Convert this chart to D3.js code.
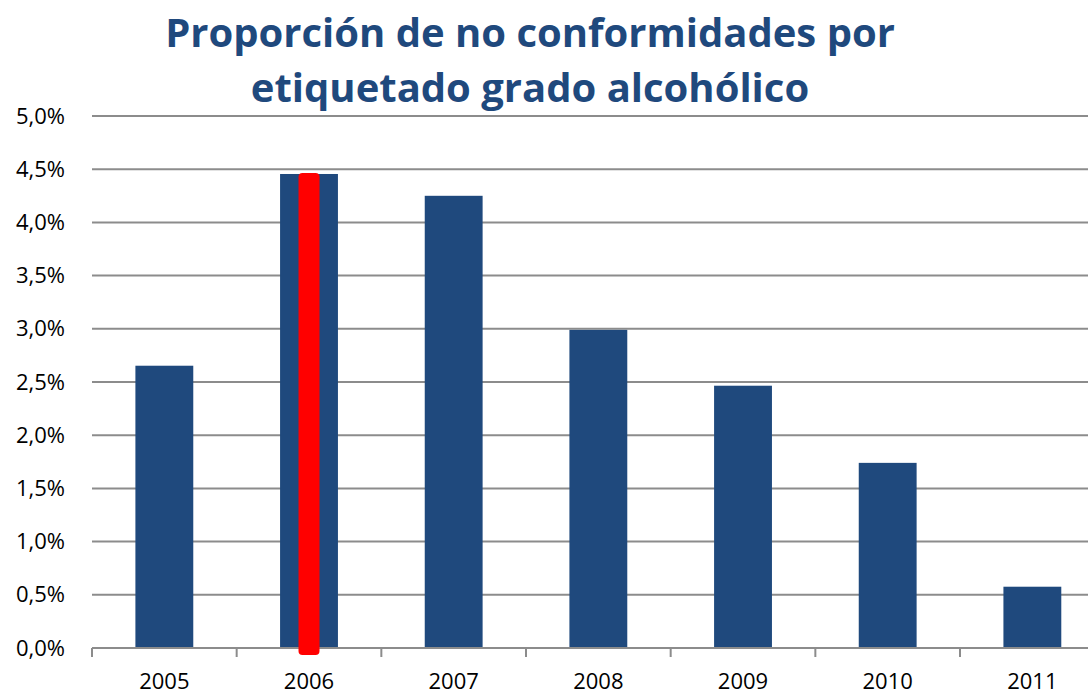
<!DOCTYPE html>
<html>
<head>
<meta charset="utf-8">
<script src="https://cdn.jsdelivr.net/npm/d3@7"></script>
<style>
  html, body { margin: 0; padding: 0; background: #fff; }
  svg { display: block; }
</style>
</head>
<body>
<svg id="chart" width="1088" height="695"></svg>
<script>
const categories = ["2005", "2006", "2007", "2008", "2009", "2010", "2011"];
const values = [0.02653, 0.04455, 0.0425, 0.0299, 0.02465, 0.0174, 0.00576];
const yTicks = [0, 0.005, 0.01, 0.015, 0.02, 0.025, 0.03, 0.035, 0.04, 0.045, 0.05];
const highlightCategory = "2006";
const titleLines = ["Proporción de no conformidades por", "etiquetado grado alcohólico"];

const svg = d3.select("#chart");
const plotLeft = 92, plotTop = 116, plotBottom = 648;
const step = 144.67;
const plotRight = plotLeft + step * categories.length;

const x = d3.scaleBand().domain(categories).range([plotLeft, plotRight]).paddingInner(0.6).paddingOuter(0.3);
const y = d3.scaleLinear().domain([0, 0.05]).range([plotBottom, plotTop]);
const fmt = v => d3.format(".1f")(v * 100).replace(".", ",") + "%";

// gridlines
svg.append("g").selectAll("line").data(yTicks.filter(d => d > 0)).join("line")
  .attr("x1", plotLeft).attr("x2", 1088)
  .attr("y1", d => y(d)).attr("y2", d => y(d))
  .attr("stroke", "#8c8c8c").attr("stroke-width", 2);

// bars
svg.append("g").selectAll("rect").data(categories).join("rect")
  .attr("x", (d) => x(d))
  .attr("width", x.bandwidth())
  .attr("y", (d, i) => y(values[i]))
  .attr("height", (d, i) => plotBottom - y(values[i]))
  .attr("fill", "#1F497D");

// y axis
const yAxis = svg.append("g").attr("transform", `translate(${plotLeft},0)`)
  .call(d3.axisLeft(y).tickValues(yTicks).tickFormat(fmt).tickSize(0).tickPadding(27));
yAxis.select(".domain").remove();
yAxis.selectAll("text").attr("font-family", "'Open Sans', sans-serif").attr("font-size", 22).attr("fill", "#000");

// x axis
const xAxis = svg.append("g").attr("transform", `translate(0,${plotBottom})`)
  .call(d3.axisBottom(x).tickSize(0).tickPadding(25));
xAxis.select(".domain").remove();
xAxis.selectAll("text").attr("font-family", "'Open Sans', sans-serif").attr("font-size", 22).attr("fill", "#000");
svg.append("line").attr("x1", plotLeft).attr("x2", 1088).attr("y1", plotBottom).attr("y2", plotBottom)
  .attr("stroke", "#8c8c8c").attr("stroke-width", 2);
// category boundary ticks
const bounds = d3.range(categories.length).map(i => plotLeft + i * step);
svg.append("g").selectAll("line").data(bounds).join("line")
  .attr("x1", d => d).attr("x2", d => d).attr("y1", plotBottom).attr("y2", plotBottom + 9)
  .attr("stroke", "#8c8c8c").attr("stroke-width", 2);

// red highlight
const hi = categories.indexOf(highlightCategory);
const cx = x(highlightCategory) + x.bandwidth() / 2;
svg.append("rect")
  .attr("x", cx - 10.5).attr("width", 21)
  .attr("y", y(values[hi]) - 1)
  .attr("height", plotBottom + 7 - (y(values[hi]) - 1))
  .attr("rx", 4).attr("ry", 4)
  .attr("fill", "#FF0000");

// title
svg.append("g").selectAll("text").data(titleLines).join("text")
  .attr("x", 530).attr("y", (d, i) => 47 + i * 55)
  .attr("text-anchor", "middle")
  .attr("font-family", "'Open Sans', sans-serif").attr("font-weight", "bold")
  .attr("font-size", 40).attr("fill", "#1F497D")
  .text(d => d);
</script>
</body>
</html>
